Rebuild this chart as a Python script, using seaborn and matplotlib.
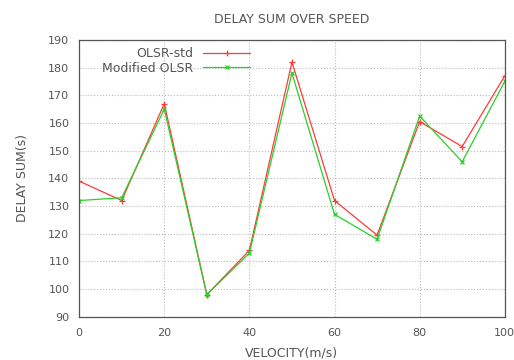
import matplotlib
matplotlib.use("Agg")
import matplotlib.pyplot as plt
import seaborn as sns
import pandas as pd

velocity = [0, 10, 20, 30, 40, 50, 60, 70, 80, 90, 100]
olsr_std = [139, 132, 167, 98, 114, 182, 132, 119.5, 160.5, 151.5, 177]
modified_olsr = [132, 133, 165, 98, 113, 178, 127, 118, 162.5, 146, 175]

df_std = pd.DataFrame({"velocity": velocity, "delay": olsr_std})
df_mod = pd.DataFrame({"velocity": velocity, "delay": modified_olsr})

sns.set_style("white")
plt.rcParams['font.family'] = ['DejaVu Sans']

fig = plt.figure(figsize=(5.14, 3.6), dpi=100)
ax = fig.add_axes([0.154, 0.120, 0.828, 0.769])

sns.lineplot(data=df_std, x="velocity", y="delay", color="#ff3a3a", marker="+",
             markersize=4.5, markeredgewidth=0.9, markeredgecolor="#ff3a3a",
             linewidth=0.9, label="OLSR-std", ax=ax)
sns.lineplot(data=df_mod, x="velocity", y="delay", color="#2ad02a", marker="x",
             markersize=3.5, markeredgewidth=0.9, markeredgecolor="#2ad02a",
             linewidth=0.9, label="Modified OLSR", ax=ax)

ax.set_xlim(0, 100)
ax.set_ylim(90, 190)
ax.set_xticks(range(0, 101, 20))
ax.set_yticks(range(90, 191, 10))
ax.grid(True, color="#bbbbbb", linestyle=":", linewidth=0.8)
ax.tick_params(direction="in", labelsize=8, colors="#555555", length=3)
ax.tick_params(axis="y", pad=7)
ax.tick_params(axis="x", pad=8)
for s in ax.spines.values():
    s.set_color("#555555")
    s.set_linewidth(0.9)

ax.set_xlabel("VELOCITY(m/s)", fontsize=9, color="#555555", labelpad=6)
ax.set_ylabel("DELAY SUM(s)", fontsize=9, color="#555555", labelpad=14)
ax.set_title("DELAY SUM OVER SPEED", fontsize=9, color="#555555", pad=12)

leg = ax.legend(loc="upper left", bbox_to_anchor=(0.035, 1.0), frameon=False,
                markerfirst=False, fontsize=9, handlelength=3.8,
                labelspacing=0.1, borderaxespad=0.2)
for t in leg.get_texts():
    t.set_color("#555555")
    t.set_ha("right")

fig.savefig("out.png", dpi=100)
